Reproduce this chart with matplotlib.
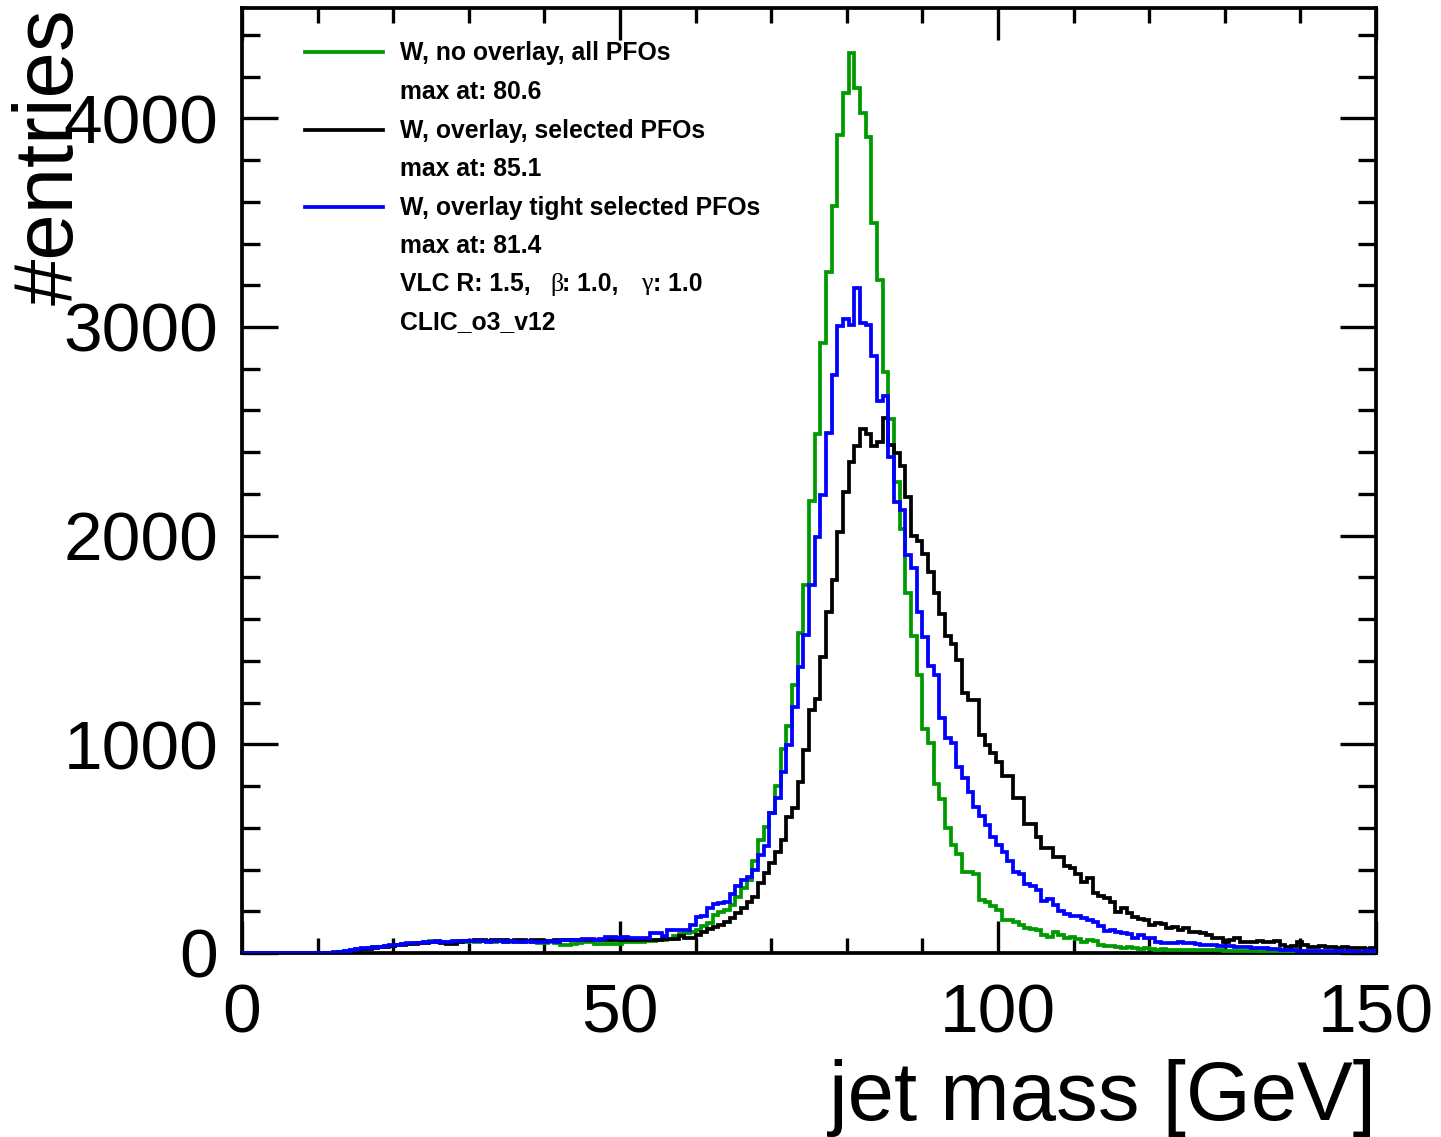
import numpy as np
import matplotlib
matplotlib.use("Agg")
import matplotlib.pyplot as plt
from matplotlib.ticker import MultipleLocator

# ---------------- data (200 bins, 0-150 GeV, 0.75 GeV wide) ----------------
x_min, x_max, n_bins = 0.0, 150.0, 200

green_no_overlay = [
    0, 0, 0, 0, 0, 0, 0, 0, 0, 0,
    0, 0, 0, 0, 0, 0, 2, 5, 9, 13,
    17, 20, 23, 27, 30, 32, 35, 38, 41, 43,
    46, 48, 52, 56, 58, 55, 52, 54, 56, 55,
    57, 55, 58, 56, 54, 57, 55, 53, 56, 54,
    52, 55, 50, 48, 52, 46, 40, 38, 42, 50,
    54, 52, 44, 42, 44, 42, 45, 52, 55, 54,
    53, 56, 58, 62, 64, 66, 80, 92, 96, 100,
    110, 128, 142, 180, 195, 206, 228, 268, 310, 348,
    440, 541, 605, 670, 800, 980, 1087, 1284, 1533, 1765,
    2168, 2487, 2921, 3264, 3580, 3922, 4123, 4313, 4144, 4024,
    3911, 3497, 3224, 2785, 2557, 2256, 2034, 1726, 1517, 1333,
    1075, 1008, 808, 738, 597, 519, 474, 389, 386, 380,
    256, 243, 226, 206, 158, 156, 150, 134, 118, 113,
    110, 86, 75, 100, 86, 70, 75, 65, 54, 62,
    59, 38, 34, 32, 28, 25, 30, 22, 20, 24,
    18, 16, 18, 14, 15, 12, 14, 13, 15, 12,
    16, 14, 12, 10, 11, 9, 10, 8, 10, 7,
    8, 6, 7, 6, 5, 6, 5, 4, 5, 4,
    4, 3, 4, 3, 3, 2, 3, 2, 2, 2,
]

black_overlay = [
    0, 0, 0, 0, 0, 0, 0, 0, 0, 0,
    0, 0, 0, 0, 0, 0, 2, 4, 7, 10,
    14, 17, 20, 24, 27, 30, 33, 36, 40, 42,
    45, 48, 50, 52, 55, 50, 42, 44, 52, 56,
    58, 60, 62, 58, 60, 62, 60, 58, 62, 60,
    58, 60, 62, 58, 56, 60, 62, 62, 60, 62,
    62, 60, 62, 64, 60, 62, 62, 64, 62, 62,
    60, 62, 64, 62, 65, 66, 65, 80, 70, 72,
    86, 102, 113, 126, 134, 150, 166, 190, 214, 246,
    270, 334, 382, 430, 485, 541, 653, 693, 821, 972,
    1164, 1219, 1420, 1635, 1787, 2018, 2210, 2354, 2429, 2513,
    2489, 2429, 2449, 2564, 2435, 2396, 2333, 2187, 1996, 1974,
    1910, 1828, 1726, 1623, 1521, 1483, 1405, 1247, 1213, 1213,
    1047, 995, 960, 915, 850, 850, 741, 741, 617, 617,
    557, 501, 501, 458, 458, 418, 406, 378, 340, 358,
    286, 275, 265, 246, 198, 214, 193, 174, 162, 160,
    134, 142, 140, 118, 126, 110, 118, 102, 100, 94,
    86, 72, 70, 54, 62, 70, 54, 54, 52, 56,
    54, 52, 58, 38, 30, 32, 54, 38, 30, 30,
    32, 28, 28, 26, 28, 22, 24, 22, 20, 22,
]

blue_tight = [
    0, 0, 0, 0, 0, 0, 0, 0, 0, 0,
    0, 0, 0, 0, 0, 0, 3, 6, 10, 14,
    18, 22, 25, 28, 31, 34, 37, 40, 44, 46,
    48, 50, 52, 54, 56, 54, 55, 57, 56, 58,
    56, 58, 57, 55, 58, 56, 54, 57, 55, 53,
    56, 54, 52, 55, 58, 54, 60, 62, 62, 62,
    65, 66, 64, 65, 75, 76, 74, 75, 70, 70,
    72, 70, 94, 94, 81, 110, 108, 110, 112, 134,
    174, 176, 214, 235, 242, 246, 285, 320, 350, 365,
    400, 470, 515, 669, 741, 869, 996, 1180, 1372, 1524,
    1763, 1994, 2194, 2490, 2769, 3004, 3040, 3011, 3189, 3020,
    3008, 2860, 2646, 2668, 2376, 2162, 2125, 1906, 1846, 1632,
    1512, 1375, 1333, 1126, 1030, 1005, 892, 838, 770, 700,
    655, 615, 557, 517, 485, 440, 389, 378, 330, 320,
    300, 250, 258, 230, 200, 185, 178, 176, 168, 158,
    150, 130, 106, 108, 100, 98, 90, 74, 84, 72,
    70, 54, 50, 48, 50, 54, 50, 46, 44, 40,
    38, 38, 34, 34, 32, 30, 30, 28, 22, 22,
    22, 18, 18, 16, 14, 12, 6, 8, 10, 10,
    10, 8, 8, 7, 8, 8, 6, 7, 8, 8,
]

x_ticks_major = [0, 50, 100, 150]
y_ticks_major = [0, 1000, 2000, 3000, 4000]

legend_labels = ["W, no overlay, all PFOs", "max at: 80.6",
                 "W, overlay, selected PFOs", "max at: 85.1",
                 "W, overlay tight selected PFOs", "max at: 81.4"]
detector_label = "CLIC_o3_v12"

# ---------------- figure ----------------
W, H = 1441, 1137
fig = plt.figure(figsize=(W / 100, H / 100), dpi=100)
L, R, T, B = 242, 1376, 8, 953
ax = fig.add_axes([L / W, 1 - B / H, (R - L) / W, (B - T) / H])

edges = np.linspace(x_min, x_max, n_bins + 1)
GREEN = "#009a00"
lw = 2.7
ax.stairs(green_no_overlay, edges, color=GREEN, lw=lw, baseline=None, zorder=3)
ax.stairs(black_overlay, edges, color="black", lw=lw, baseline=None, zorder=4)
ax.stairs(blue_tight, edges, color="#0000ff", lw=lw, baseline=None, zorder=5)

ymax = 1.05 * max(green_no_overlay)
ax.set_xlim(x_min, x_max)
ax.set_ylim(0, ymax)

font = "Liberation Sans"
ax.set_xticks(x_ticks_major)
ax.set_yticks(y_ticks_major)
ax.xaxis.set_minor_locator(MultipleLocator(10))
ax.yaxis.set_minor_locator(MultipleLocator(200))
ax.tick_params(which="both", direction="in", top=True, right=True, width=2.4,
               labelsize=50, labelfontfamily=font)
ax.tick_params(axis="x", which="major", length=23, pad=21)
ax.tick_params(axis="x", which="minor", length=11)
ax.tick_params(axis="y", which="major", length=26, pad=17)
ax.tick_params(axis="y", which="minor", length=13)
for s in ax.spines.values():
    s.set_linewidth(2.7)

ax.set_xlabel("jet mass [GeV]", fontsize=60, family=font, loc="right", labelpad=9)
ax.set_ylabel("#entries", fontsize=60, family=font, loc="top", labelpad=-19)

# ---------------- legend (manual, ROOT style) ----------------
def fx(px):
    return px / W

def fy(py):
    return 1 - py / H

rows = [53, 92, 131, 169, 208, 246, 284, 322]
line_cols = {0: GREEN, 2: "black", 4: "#0000ff"}
fs_leg = 17.8
for i, lab in enumerate(legend_labels):
    fig.text(fx(400), fy(rows[i]), lab, fontsize=fs_leg, family=font,
             weight="bold", va="center", ha="left")
    if i in line_cols:
        fig.add_artist(plt.Line2D([fx(305), fx(383)], [fy(rows[i] - 1), fy(rows[i] - 1)],
                                  color=line_cols[i], lw=lw))

yv = fy(rows[6])
fig.text(fx(400), yv, "VLC R: 1.5,", fontsize=fs_leg, family=font, weight="bold", va="center")
fig.text(fx(550), yv, "\u03b2", fontsize=fs_leg + 1, family="Liberation Serif", va="center")
fig.text(fx(562), yv, ": 1.0,", fontsize=fs_leg, family=font, weight="bold", va="center")
fig.text(fx(641), yv, "\u03b3", fontsize=fs_leg + 1, family="Liberation Serif", va="center")
fig.text(fx(653), yv, ": 1.0", fontsize=fs_leg, family=font, weight="bold", va="center")
fig.text(fx(400), fy(rows[7]), detector_label, fontsize=fs_leg, family=font,
         weight="bold", va="center")

fig.savefig("out.png", dpi=100)
